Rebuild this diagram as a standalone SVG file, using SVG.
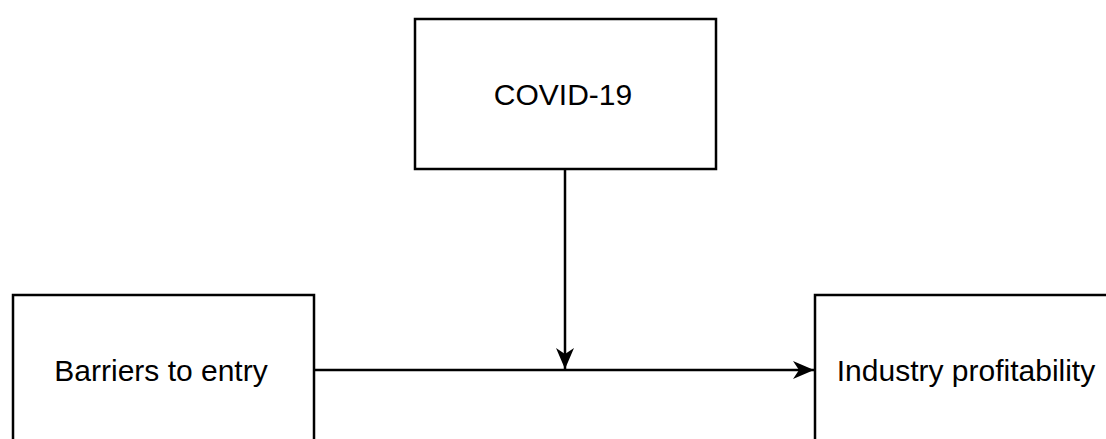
<svg xmlns="http://www.w3.org/2000/svg" width="1106" height="439" viewBox="0 0 1106 439">
<style>
.box{fill:#fff;stroke:#000;stroke-width:2.5}
.lbl{font-family:"Liberation Sans",Arial,sans-serif;font-size:30px;fill:#000;text-anchor:middle}
.edge{fill:none;stroke:#000;stroke-width:2.5}
</style>
<defs>
<marker id="ah" viewBox="-22 -12 24 24" refX="0" refY="0" markerWidth="24" markerHeight="24" markerUnits="userSpaceOnUse" orient="auto">
<path d="M0,0 L-21,-9 L-15,0 L-21,9 Z" fill="#000"/>
</marker>
</defs>
<g id="connectors">
<path class="edge" d="M565,169 L565,369" marker-end="url(#ah)"/>
<path class="edge" d="M314,370 L814,370" marker-end="url(#ah)"/>
</g>
<g id="covid">
<rect class="box" x="415" y="19" width="301" height="150"/>
<text class="lbl" x="563" y="105">COVID-19</text>
</g>
<g id="barriers">
<rect class="box" x="13" y="295" width="301" height="150"/>
<text class="lbl" x="161" y="381">Barriers to entry</text>
</g>
<g id="industry">
<rect class="box" x="815" y="295" width="301" height="150"/>
<text class="lbl" x="966" y="381">Industry profitability</text>
</g>
</svg>
